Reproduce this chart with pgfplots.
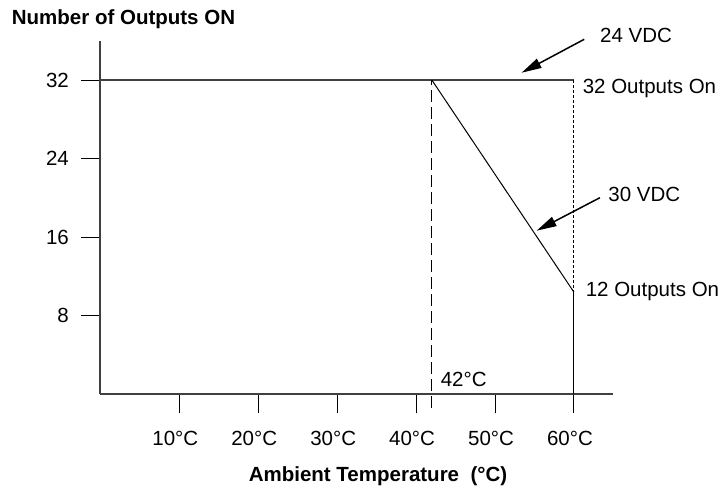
\documentclass[border=0pt]{standalone}
\usepackage{fontspec}
\setmainfont{Liberation Sans}
\usepackage{pgfplots}
\pgfplotsset{compat=1.18}
\usetikzlibrary{arrows.meta}
\definecolor{axgray}{HTML}{404040}
\begin{document}
\begin{tikzpicture}[font=\fontsize{20.5}{24}\selectfont]
\begin{axis}[
  scale only axis, width=513pt, height=353.5pt,
  xmin=0, xmax=65, ymin=0, ymax=36,
  axis x line=bottom, axis y line=left,
  axis line style={-, axgray, line width=2pt},
  xtick={10,20,30,40,50,60},
  xticklabels={10°C,20°C,30°C,40°C,50°C,60°C},
  ytick={8,16,24,32}, yticklabels={8,16,24,32},
  tick align=outside, major tick length=19pt,
  tick style={black, line width=1pt},
  every tick label/.append style={font=\fontsize{20.5}{24}\selectfont},
  xticklabel style={yshift=-14pt, xshift=-4pt},
  yticklabel style={xshift=-9pt},
  /pgf/number format/assume math mode=true,
  clip=false,
]
\addplot[axgray, line width=1.5pt] coordinates {(0,32) (60,32)};
\addplot[black, line width=1pt, dash pattern=on 12pt off 5pt] coordinates {(42,-1.4) (42,32)};
\addplot[black, line width=1pt] coordinates {(42,32) (60,10.4)};
\addplot[black, line width=1pt, dash pattern=on 3pt off 2pt] coordinates {(60,32) (60,10.4)};
\addplot[black, line width=1pt] coordinates {(60,10.4) (60,0)};
\node[anchor=base west, inner sep=0pt] at (axis cs:63.29,35.80) {24 VDC};
\draw[black, line width=1.5pt, -{Triangle[length=20pt,width=10pt]}] (axis cs:61.30,36.15) -- (axis cs:53.37,32.75);
\node[anchor=base west, inner sep=0pt] at (axis cs:61.10,30.65) {32 Outputs On};
\node[anchor=base west, inner sep=0pt] at (axis cs:64.34,19.61) {30 VDC};
\draw[black, line width=1.5pt, -{Triangle[length=20pt,width=10pt]}] (axis cs:63.29,20.02) -- (axis cs:55.27,16.66);
\node[anchor=base west, inner sep=0pt] at (axis cs:61.48,9.94) {12 Outputs On};
\node[anchor=base west, inner sep=0pt] at (axis cs:43.11,0.77) {42°C};
\node[anchor=base west, inner sep=0pt, font=\fontsize{20.5}{24}\selectfont\bfseries] at (axis cs:-11.24,37.61) {Number of Outputs ON};
\node[anchor=base, inner sep=0pt, font=\fontsize{20.5}{24}\selectfont\bfseries] at (axis cs:35.17,-8.88) {Ambient Temperature\ \ (°C)};
\end{axis}
\pgfresetboundingbox
\useasboundingbox (-100.4pt,-91.7pt) rectangle (619.6pt,394.3pt);
\end{tikzpicture}
\end{document}
